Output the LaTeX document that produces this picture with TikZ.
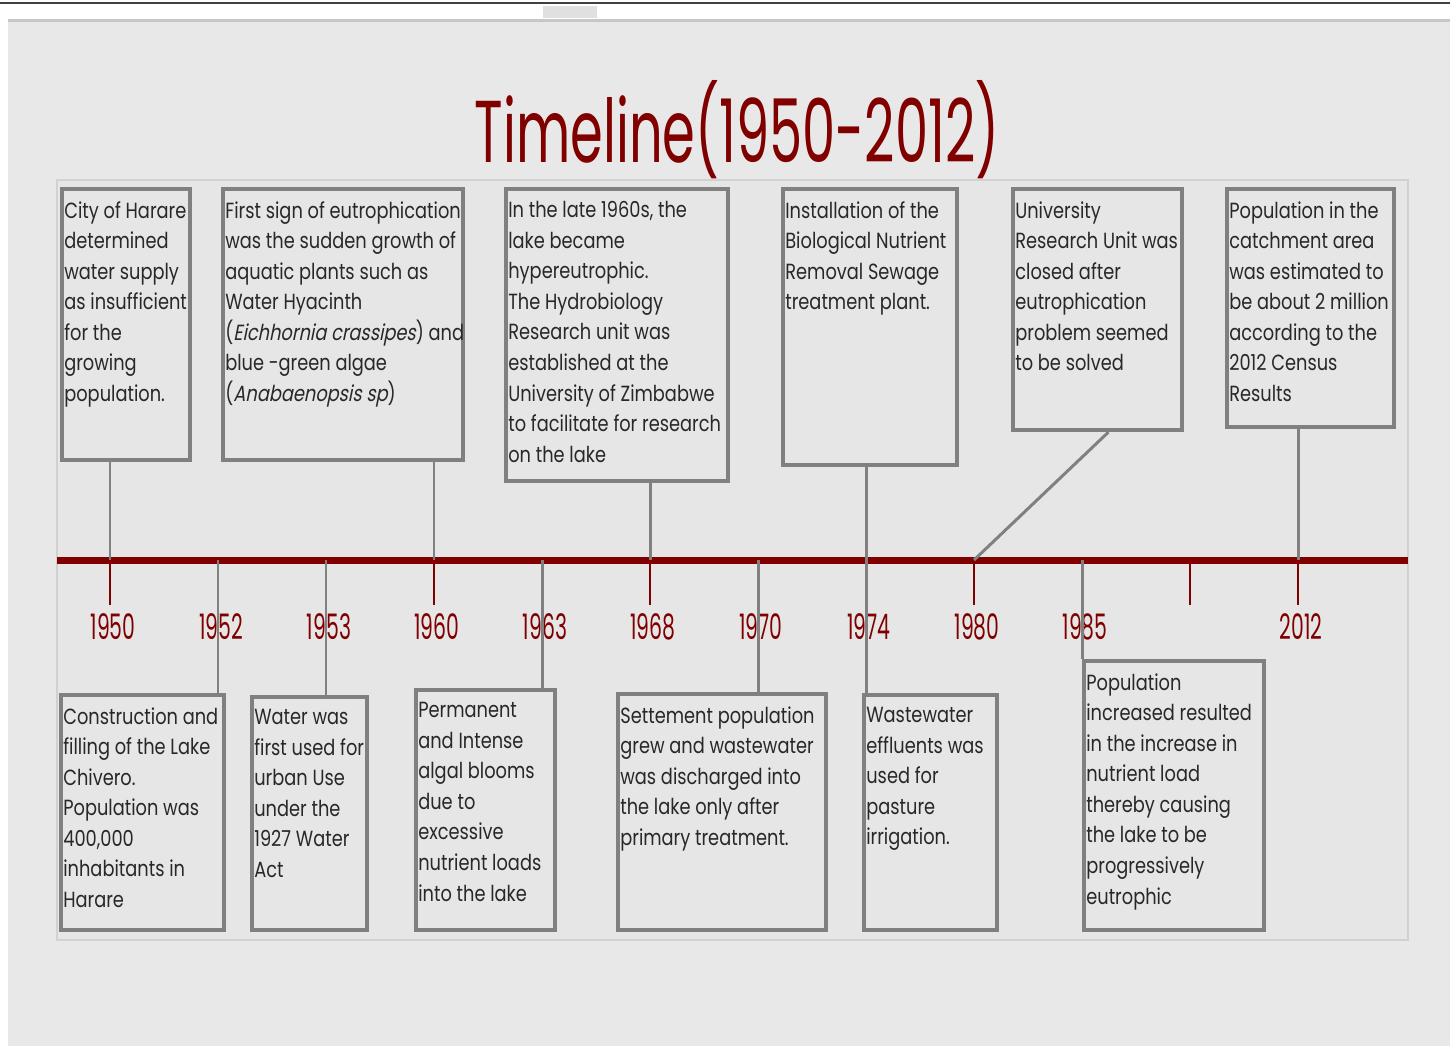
\documentclass[tikz,border=0pt]{standalone}
\usepackage{fontspec}
\setmainfont{Poppins}
\newfontfamily\narrowfont[FakeStretch=0.58]{Poppins}
\newfontfamily\titlefont[FakeStretch=0.6]{Poppins}
\newfontfamily\bodyfont[FakeStretch=0.81]{Poppins}
\newfontfamily\bodyitfont[FakeStretch=0.81,FakeSlant=0.2]{Poppins}
\usetikzlibrary{fit}
\definecolor{tlred}{RGB}{128,0,0}
\definecolor{pagegray}{RGB}{232,232,232}
\definecolor{panelgray}{RGB}{230,230,230}
\definecolor{boxgray}{RGB}{128,128,128}
\definecolor{inkgray}{RGB}{40,40,40}

\begin{document}
\begin{tikzpicture}[x=0.02cm,y=-0.02cm,
		evbox/.style={draw=boxgray,line width=2.3pt,inner sep=0pt},
		evtext/.style={anchor=north west,inner sep=0pt,align=left,text=inkgray,
			font=\bodyfont\fontsize{12.5}{17.4}\selectfont},
		link/.style={draw=boxgray,line width=1.7pt},
		yearlbl/.style={text=tlred,font=\narrowfont\fontsize{20}{24}\selectfont}]
		\useasboundingbox (0,0) rectangle (1450,1046);

		% page
		\fill[white] (0,0) rectangle (1450,1046);
		\fill[pagegray] (8,20) rectangle (1450,1046);
		\draw[black!75,line width=1.2pt] (0,3) -- (1450,3);
		\draw[black!22,line width=1.7pt] (8,20) -- (1450,20);
		\fill[black!12] (543,6) rectangle (597,18);
		\draw[black!18,fill=panelgray,line width=1pt] (57,180) rectangle (1408,940);

		\node[text=tlred,font=\titlefont\fontsize{50}{56}\selectfont] (title) at (737,130) {Timeline(1950-2012)};

		% upper events
		\node[evbox,fit={(62,189) (190,460)}] (t1) {};
		\node[evbox,fit={(223,189) (463,460)}] (t2) {};
		\node[evbox,fit={(506,189) (728,481)}] (t3) {};
		\node[evbox,fit={(783,189) (957,465)}] (t4) {};
		\node[evbox,fit={(1013,189) (1182,430)}] (t5) {};
		\node[evbox,fit={(1227,189) (1394,427)}] (t6) {};

		\node[evtext] (t1txt) at ([shift={(4,14)}]t1.north west) {City of Harare\\determined\\water supply\\as insufficient\\for the\\growing\\population.};
		\node[evtext] (t2txt) at ([shift={(4,14)}]t2.north west) {First sign of eutrophication\\was the sudden growth of\\aquatic plants such as\\Water Hyacinth\\({\bodyitfont Eichhornia crassipes}) and\\blue -green algae\\({\bodyitfont Anabaenopsis sp})};
		\node[evtext] (t3txt) at ([shift={(4,14)}]t3.north west) {In the late 1960s, the\\lake became\\hypereutrophic.\\The Hydrobiology\\Research unit was\\established at the\\University of Zimbabwe\\to facilitate for research\\on the lake};
		\node[evtext] (t4txt) at ([shift={(4,14)}]t4.north west) {Installation of the\\Biological Nutrient\\Removal Sewage\\treatment plant.};
		\node[evtext] (t5txt) at ([shift={(4,14)}]t5.north west) {University\\Research Unit was\\closed after\\eutrophication\\problem seemed\\to be solved};
		\node[evtext] (t6txt) at ([shift={(4,14)}]t6.north west) {Population in the\\catchment area\\was estimated to\\be about 2 million\\according to the\\2012 Census\\Results};

		% lower events
		\node[evbox,fit={(61,695) (224,930)}] (b1) {};
		\node[evbox,fit={(252,697) (367,930)}] (b2) {};
		\node[evbox,fit={(416,690) (555,930)}] (b3) {};
		\node[evbox,fit={(618,694) (826,930)}] (b4) {};
		\node[evbox,fit={(864,695) (997,930)}] (b5) {};
		\node[evbox,fit={(1084,661) (1264,930)}] (b6) {};

		\node[evtext] (b1txt) at ([shift={(4,14)}]b1.north west) {Construction and\\filling of the Lake\\Chivero.\\Population was\\400,000\\inhabitants in\\Harare};
		\node[evtext] (b2txt) at ([shift={(4,14)}]b2.north west) {Water was\\first used for\\urban Use\\under the\\1927 Water\\Act};
		\node[evtext] (b3txt) at ([shift={(4,14)}]b3.north west) {Permanent\\and Intense\\algal blooms\\due to\\excessive\\nutrient loads\\into the lake};
		\node[evtext] (b4txt) at ([shift={(4,14)}]b4.north west) {Settement population\\grew and wastewater\\was discharged into\\the lake only after\\primary treatment.};
		\node[evtext] (b5txt) at ([shift={(4,14)}]b5.north west) {Wastewater\\effluents was\\used for\\pasture\\irrigation.};
		\node[evtext] (b6txt) at ([shift={(4,14)}]b6.north west) {Population\\increased resulted\\in the increase in\\nutrient load\\thereby causing\\the lake to be\\progressively\\eutrophic};

		% time axis
		\draw[tlred,line width=4pt] (57,560) -- (1408,560);
		\foreach \k in {0,...,11}{
			\coordinate (tk\k) at (110+108*\k,560);
			\draw[tlred,line width=1.4pt] (tk\k) -- ++(0,45);
		}
		\foreach \k/\yr in {0/1950,1/1952,2/1953,3/1960,4/1963,5/1968,6/1970,7/1974,8/1980,9/1985,11/2012}
			\node[yearlbl] (yr\k) at ([shift={(3,67)}]tk\k) {\yr};

		% connectors
		\draw[link] (tk0 |- t1.south) -- (tk0);
		\draw[link] (tk3 |- t2.south) -- (tk3);
		\draw[link] (tk5 |- t3.south) -- (tk5);
		\draw[link] (tk7 |- t4.south) -- (tk7 |- b5.north);
		\draw[link] ([shift={(11,0)}]t5.south) -- (tk8);
		\draw[link] (tk11 |- t6.south) -- (tk11);
		\draw[link] (tk1) -- (tk1 |- b1.north);
		\draw[link] (tk2) -- (tk2 |- b2.north);
		\draw[link] (tk4) -- (tk4 |- b3.north);
		\draw[link] (tk6) -- (tk6 |- b4.north);
		\draw[link] (tk9) -- (tk9 |- b6.north);
\end{tikzpicture}
\end{document}
